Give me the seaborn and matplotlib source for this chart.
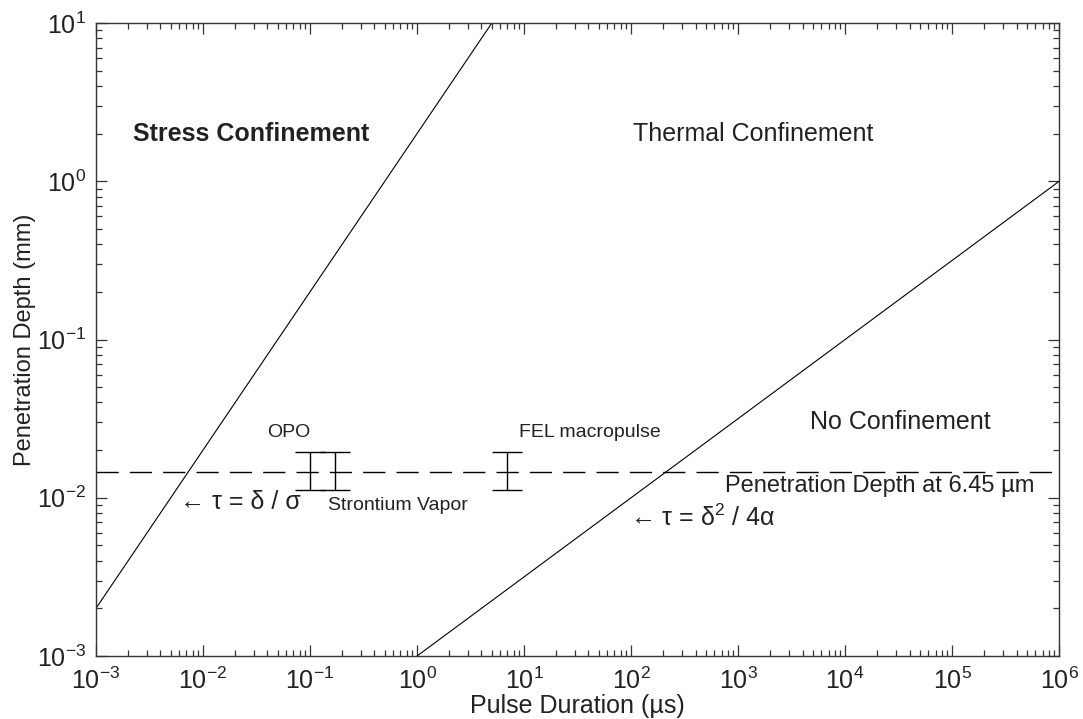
import numpy as np
import pandas as pd
import matplotlib
matplotlib.use("Agg")
import matplotlib.pyplot as plt
import seaborn as sns

# datos
stress_tau = [1e-3, 5.0]          # tau = delta / sigma
stress_depth = [2e-3, 10.0]
thermal_tau = [1.0, 1e6]          # tau = delta^2 / 4 alpha
thermal_depth = [1e-3, 1.0]
depth_645 = 0.0146                # profundidad a 6.45 um

sources = ["OPO", "Strontium Vapor", "FEL macropulse"]
source_tau = [0.10, 0.17, 7.0]
source_low = [0.0112, 0.0112, 0.0112]
source_high = [0.0195, 0.0195, 0.0195]

sns.set_style("ticks")
plt.rcParams['font.family'] = ['Liberation Sans', 'DejaVu Sans']
plt.rcParams['mathtext.fontset'] = 'custom'
plt.rcParams['mathtext.rm'] = 'Liberation Sans'
plt.rcParams['mathtext.it'] = 'Liberation Sans:italic'
plt.rcParams['mathtext.bf'] = 'Liberation Sans:bold'

fig = plt.figure(figsize=(10.83, 7.19), dpi=100)
ax = fig.add_axes([0.0886, 0.0876, 0.8894, 0.8804])

df1 = pd.DataFrame({'tau': stress_tau, 'depth': stress_depth})
df2 = pd.DataFrame({'tau': thermal_tau, 'depth': thermal_depth})
sns.lineplot(data=df1, x='tau', y='depth', color='black', lw=0.8, ax=ax)
sns.lineplot(data=df2, x='tau', y='depth', color='black', lw=0.8, ax=ax)
ax.axhline(depth_645, color='black', lw=1.0, dashes=(16, 8))

# barras de las fuentes
center = np.sqrt(np.array(source_low) * np.array(source_high))
yerr = [center - np.array(source_low), np.array(source_high) - center]
ax.errorbar(source_tau, center, yerr=yerr, fmt='none', ecolor='black',
            elinewidth=1.0, capsize=11, capthick=1.0)

ax.set_xscale('log')
ax.set_yscale('log')
ax.set_xlim(1e-3, 1e6)
ax.set_ylim(1e-3, 1e1)
ax.set_xticks([10.0**k for k in range(-3, 7)])
ax.set_yticks([10.0**k for k in range(-3, 2)])

for s in ax.spines.values():
    s.set_visible(True)
    s.set_color('#333333')
    s.set_linewidth(1.0)
ax.tick_params(which='both', direction='in', top=True, right=True,
               colors='#333333', labelcolor='#222222')
ax.tick_params(which='major', length=8, width=0.9, labelsize=18, pad=8)
ax.tick_params(which='minor', length=4, width=0.9)
ax.tick_params(axis='y', which='major', pad=7)

ax.set_xlabel('Pulse Duration (µs)', fontsize=18, color='#222222', labelpad=0)
ax.set_ylabel('Penetration Depth (mm)', fontsize=17, color='#222222', labelpad=1)

tc = '#222222'
ax.text(2.2e-3, 2.0, 'Stress Confinement', fontsize=18, fontweight='bold',
        ha='left', va='center', color=tc)
ax.text(1.05e2, 2.0, 'Thermal Confinement', fontsize=18, ha='left', va='center', color=tc)
ax.text(4.7e3, 0.030, 'No Confinement', fontsize=18, ha='left', va='center', color=tc)
ax.text(0.04, 0.0258, sources[0], fontsize=14, ha='left', va='center', color=tc)
ax.text(9.0, 0.0258, sources[2], fontsize=14, ha='left', va='center', color=tc)
ax.text(0.147, 0.0089, sources[1], fontsize=14, ha='left', va='center', color=tc)
ax.text(6.1e-3, 0.0094, r'← τ = δ / σ', fontsize=18, ha='left', va='center', color=tc)
ax.text(98, 0.0075, r'← τ = δ$^2$ / 4α', fontsize=18, ha='left', va='center', color=tc)
ax.text(760, 0.0119, 'Penetration Depth at 6.45 µm', fontsize=17, ha='left',
        va='center', color=tc)

fig.savefig('out.png', dpi=100)
